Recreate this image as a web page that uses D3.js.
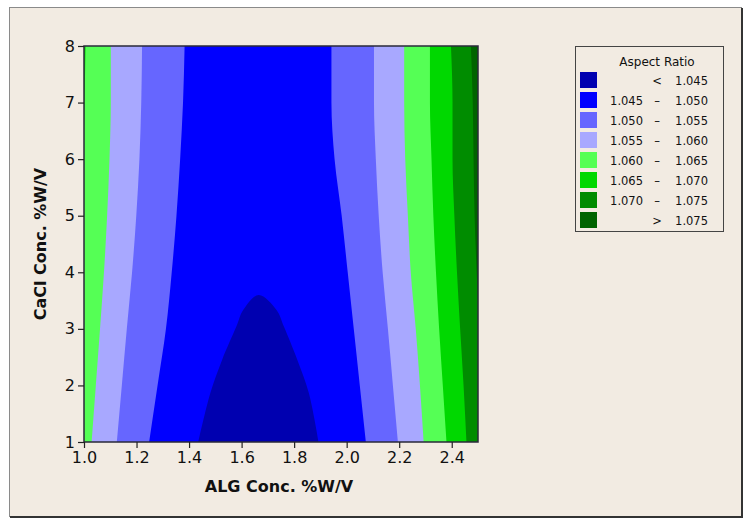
<!DOCTYPE html>
<html>
<head>
<meta charset="utf-8">
<script src="https://cdn.jsdelivr.net/npm/d3@7"></script>
<style>
  html, body { margin: 0; padding: 0; background: #ffffff; }
  svg { display: block; font-family: "DejaVu Sans", sans-serif; }
</style>
</head>
<body>
<svg id="chart" width="754" height="528"></svg>
<script>
const yLevels = [1, 2, 3, 4, 5, 6, 7, 8];

// ALG conc. where each contour crosses, left flank (values rise to the left)
const left050 = [1.248, 1.280, 1.312, 1.334, 1.352, 1.366, 1.377, 1.383];
const left055 = [1.125, 1.144, 1.163, 1.183, 1.199, 1.211, 1.218, 1.221];
const left060 = [1.029, 1.045, 1.061, 1.076, 1.088, 1.097, 1.102, 1.102];
const left065 = [0.970, 0.980, 0.985, 0.990, 0.995, 0.998, 1.002, 1.006];

// right flank (values rise to the right)
const right050 = [2.073, 2.050, 2.027, 2.004, 1.981, 1.954, 1.942, 1.942];
const right055 = [2.195, 2.176, 2.157, 2.137, 2.122, 2.111, 2.104, 2.104];
const right060 = [2.293, 2.279, 2.263, 2.244, 2.233, 2.223, 2.219, 2.219];
const right065 = [2.380, 2.366, 2.352, 2.340, 2.330, 2.323, 2.317, 2.317];
const right070 = [2.456, 2.445, 2.432, 2.420, 2.410, 2.403, 2.403, 2.397];
const right075 = [2.530, 2.515, 2.505, 2.495, 2.487, 2.483, 2.480, 2.473];

// the < 1.045 dome near the bottom
const domeX = [1.435, 1.481, 1.526, 1.580, 1.606, 1.665, 1.733, 1.761, 1.812, 1.856, 1.893];
const domeY = [1.000, 1.866, 2.455, 3.040, 3.335, 3.600, 3.335, 3.040, 2.455, 1.866, 1.000];

const xTicks = [1.0, 1.2, 1.4, 1.6, 1.8, 2.0, 2.2, 2.4];
const yTicks = [1, 2, 3, 4, 5, 6, 7, 8];

const legendLow = ["", "1.045", "1.050", "1.055", "1.060", "1.065", "1.070", ""];
const legendMid = ["<", "\u2013", "\u2013", "\u2013", "\u2013", "\u2013", "\u2013", ">"];
const legendHigh = ["1.045", "1.050", "1.055", "1.060", "1.065", "1.070", "1.075", "1.075"];
const bandColors = ["#0000b0", "#0000ff", "#6666ff", "#a8a8ff", "#55ff55", "#00d800", "#008c00", "#006400"];

const svg = d3.select("#chart");
const bg = "#f2ebe2";

// outer frame
svg.append("rect").attr("x", 9.5).attr("y", 7.5).attr("width", 732).attr("height", 509)
    .attr("fill", bg).attr("stroke", "#8a8a8a").attr("stroke-width", 1);
svg.append("path").attr("d", "M742,8 V517 H10")
    .attr("fill", "none").attr("stroke", "#333").attr("stroke-width", 2);

const x = d3.scaleLinear().domain([1.0, 2.5]).range([84, 478]);
const y = d3.scaleLinear().domain([1, 8]).range([442, 46]);

svg.append("clipPath").attr("id", "plotClip")
    .append("rect").attr("x", 84).attr("y", 46).attr("width", 394).attr("height", 396);

const plot = svg.append("g").attr("clip-path", "url(#plotClip)");

// base band 1.045 - 1.050
plot.append("rect").attr("x", 84).attr("y", 46).attr("width", 394).attr("height", 396)
    .attr("fill", bandColors[1]);

const areaLeft = (bound) => d3.area()
    .curve(d3.curveMonotoneY)
    .y((d, i) => y(yLevels[i]))
    .x0(() => x(0.9))
    .x1((d) => x(d))(bound);

const areaRight = (bound) => d3.area()
    .curve(d3.curveMonotoneY)
    .y((d, i) => y(yLevels[i]))
    .x0((d) => x(d))
    .x1(() => x(2.6))(bound);

[left050, left055, left060, left065].forEach((b, i) => {
    plot.append("path").attr("d", areaLeft(b)).attr("fill", bandColors[i + 2]);
});
[right050, right055, right060, right065, right070, right075].forEach((b, i) => {
    plot.append("path").attr("d", areaRight(b)).attr("fill", bandColors[i + 2]);
});

const domeLine = d3.line()
    .curve(d3.curveCatmullRom)
    .x((d) => x(d[0]))
    .y((d) => y(d[1]));
plot.append("path")
    .attr("d", domeLine(d3.zip(domeX, domeY)) + "Z")
    .attr("fill", bandColors[0]);

// plot border
svg.append("rect").attr("x", 84).attr("y", 46).attr("width", 394).attr("height", 396)
    .attr("fill", "none").attr("stroke", "#2a2a3a").attr("stroke-width", 1.5);

// axes
const xAxis = svg.append("g").attr("transform", "translate(0,442)")
    .call(d3.axisBottom(x).tickValues(xTicks).tickFormat(d3.format(".1f")).tickSize(6).tickPadding(4));
const yAxis = svg.append("g").attr("transform", "translate(84,0)")
    .call(d3.axisLeft(y).tickValues(yTicks).tickFormat(d3.format("d")).tickSize(6).tickPadding(3));
[xAxis, yAxis].forEach(a => {
    a.select(".domain").remove();
    a.selectAll("line").attr("stroke", "#222").attr("stroke-width", 1.2);
    a.selectAll("text").attr("fill", "#111").style("font-size", "16px")
        .style("font-family", "'DejaVu Sans', sans-serif");
});

svg.append("text").attr("x", 279).attr("y", 492).attr("text-anchor", "middle")
    .style("font-size", "16px").style("font-weight", "bold").attr("fill", "#111")
    .text("ALG Conc. %W/V");
svg.append("text").attr("transform", "translate(46,244) rotate(-90)").attr("text-anchor", "middle")
    .style("font-size", "16px").style("font-weight", "bold").attr("fill", "#111")
    .text("CaCl Conc. %W/V");

// legend
const lg = svg.append("g");
lg.append("rect").attr("x", 575.5).attr("y", 46.5).attr("width", 148).attr("height", 185)
    .attr("fill", bg).attr("stroke", "#444").attr("stroke-width", 1);
lg.append("text").attr("x", 657).attr("y", 66).attr("text-anchor", "middle")
    .style("font-size", "12px").attr("fill", "#111").text("Aspect Ratio");

const rows = lg.selectAll("g.row").data(bandColors).join("g")
    .attr("class", "row")
    .attr("transform", (d, i) => `translate(0,${80 + i * 20})`);
rows.append("rect").attr("x", 580).attr("y", -8).attr("width", 17).attr("height", 16)
    .attr("fill", d => d);
rows.append("text").attr("x", 643).attr("y", 4.5).attr("text-anchor", "end")
    .style("font-size", "11.5px").attr("fill", "#111").text((d, i) => legendLow[i]);
rows.append("text").attr("x", 657).attr("y", 4.5).attr("text-anchor", "middle")
    .style("font-size", "11.5px").attr("fill", "#111").text((d, i) => legendMid[i]);
rows.append("text").attr("x", 708).attr("y", 4.5).attr("text-anchor", "end")
    .style("font-size", "11.5px").attr("fill", "#111").text((d, i) => legendHigh[i]);
</script>
</body>
</html>
